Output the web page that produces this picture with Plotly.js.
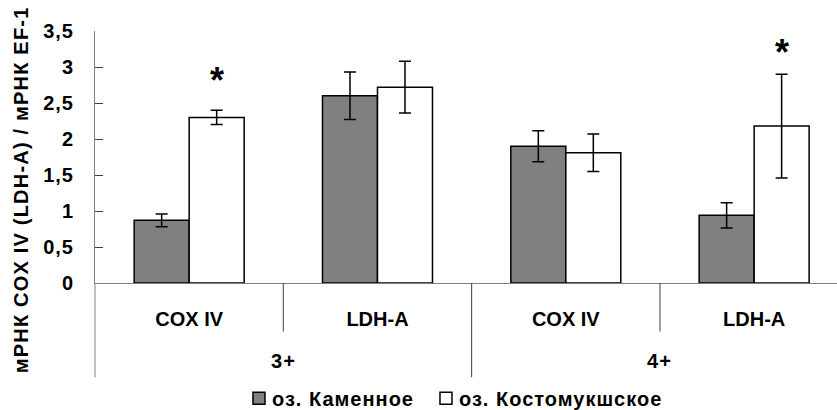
<!DOCTYPE html>
<html>
<head>
<meta charset="utf-8">
<script src="https://cdn.plot.ly/plotly-3.0.1.min.js"></script>
<style>
html, body { margin: 0; padding: 0; overflow: hidden; background: #fff; }
#chart { width: 837px; height: 410px; }
.legendtext { letter-spacing: 1px; }
.legendsymbols { transform: translateX(7px); }
.annotation-text { letter-spacing: 1.2px; }
.ytick text { letter-spacing: 1px; }
</style>
</head>
<body>
<div id="chart"></div>
<script>
// ---- data ----
var groups = ["3+", "3+", "4+", "4+"];
var genes = ["COX IV", "LDH-A", "COX IV", "LDH-A"];
var kamennoe = [0.87, 2.60, 1.90, 0.94];
var kamennoeErr = [0.09, 0.33, 0.215, 0.175];
var kostomuksha = [2.30, 2.72, 1.81, 2.18];
var kostomukshaErr = [0.10, 0.36, 0.26, 0.72];
var significant = [true, false, false, true];
var starLevels = [2.81, null, null, 3.20];
var seriesNames = ["оз. Каменное", "оз. Костомукшское"];
var yTickVals = [0, 0.5, 1, 1.5, 2, 2.5, 3, 3.5];
var yTickText = ["0", "0,5", "1", "1,5", "2", "2,5", "3", "3,5"];
var yTitle = "мРНК COX IV (LDH-A) / мРНК EF-1";

var FONT = "Liberation Sans, Arial, sans-serif";
var idx = genes.map(function (_, i) { return i; });
var bargap = 0.416;

var traces = [
  {
    type: "bar", name: seriesNames[0], x: idx, y: kamennoe,
    marker: { color: "#808080", line: { color: "#000", width: 1.5 } },
    error_y: { type: "data", array: kamennoeErr, visible: true, color: "#000", thickness: 1.5, width: 6 }
  },
  {
    type: "bar", name: seriesNames[1], x: idx, y: kostomuksha,
    marker: { color: "#ffffff", line: { color: "#000", width: 1.5 } },
    error_y: { type: "data", array: kostomukshaErr, visible: true, color: "#000", thickness: 1.5, width: 6 }
  }
];

var annotations = [];
var offset = (1 - bargap) / 4;
significant.forEach(function (s, i) {
  if (s) annotations.push({
    x: i + offset, y: starLevels[i], xref: "x", yref: "y", text: "*", showarrow: false, xshift: 1,
    font: { family: FONT, size: 36, weight: "bold", color: "#000" }, xanchor: "center", yanchor: "middle"
  });
});
var uniqueGroups = [];
groups.forEach(function (g, i) {
  var found = uniqueGroups.filter(function (u) { return u.name === g; })[0];
  if (found) found.idx.push(i); else uniqueGroups.push({ name: g, idx: [i] });
});
uniqueGroups.forEach(function (g) {
  var c = (g.idx[0] + g.idx[g.idx.length - 1]) / 2;
  annotations.push({
    x: c, y: -0.311, xref: "x", yref: "paper", text: g.name, showarrow: false,
    font: { family: FONT, size: 20, weight: "bold", color: "#000" }, xanchor: "center", yanchor: "middle"
  });
});
annotations.push({
  x: -0.1004, y: 0.37, xref: "paper", yref: "paper", text: yTitle, showarrow: false, textangle: -90,
  font: { family: FONT, size: 20, weight: "bold", color: "#000" }, xanchor: "center", yanchor: "middle"
});

var shapes = [];
shapes.push({ type: "line", xref: "paper", yref: "paper", x0: 0, x1: 0, y0: 0, y1: -0.374, line: { color: "#808080", width: 1 } });
for (var i = 0; i < genes.length - 1; i++) {
  var outer = groups[i] !== groups[i + 1];
  shapes.push({
    type: "line", xref: "x", yref: "paper", x0: i + 0.5, x1: i + 0.5, y0: 0, y1: outer ? -0.374 : -0.193,
    line: { color: "#404040", width: 1 }
  });
}

var layout = {
  width: 837, height: 410,
  margin: { l: 95, r: 0, t: 31, b: 127, pad: 0, autoexpand: false },
  paper_bgcolor: "#fff", plot_bgcolor: "#fff",
  barmode: "group", bargap: bargap, bargroupgap: 0,
  showlegend: true,
  legend: {
    orientation: "h", x: 0.1846, xanchor: "left", y: -0.4575, yanchor: "middle",
    font: { family: FONT, size: 20, weight: "bold", color: "#000" }, traceorder: "normal"
  },
  xaxis: {
    range: [-0.5, 3.44], tickvals: idx, ticktext: genes, showline: true, linecolor: "#808080", linewidth: 1,
    ticks: "", showgrid: false, zeroline: false, ticklabelstandoff: 18, layer: "below traces",
    tickfont: { family: FONT, size: 20, weight: "bold", color: "#000" }, fixedrange: true
  },
  yaxis: {
    range: [0, 3.5], tickvals: yTickVals, ticktext: yTickText, showline: true, linecolor: "#808080", linewidth: 1,
    ticks: "inside", ticklen: 8, tickcolor: "#404040", showgrid: false, zeroline: false, ticklabelstandoff: 16,
    tickfont: { family: FONT, size: 20, weight: "bold", color: "#000" }, fixedrange: true
  },
  annotations: annotations,
  shapes: shapes,
  font: { family: FONT }
};

Plotly.newPlot("chart", traces, layout, { displayModeBar: false, staticPlot: true });
</script>
</body>
</html>
